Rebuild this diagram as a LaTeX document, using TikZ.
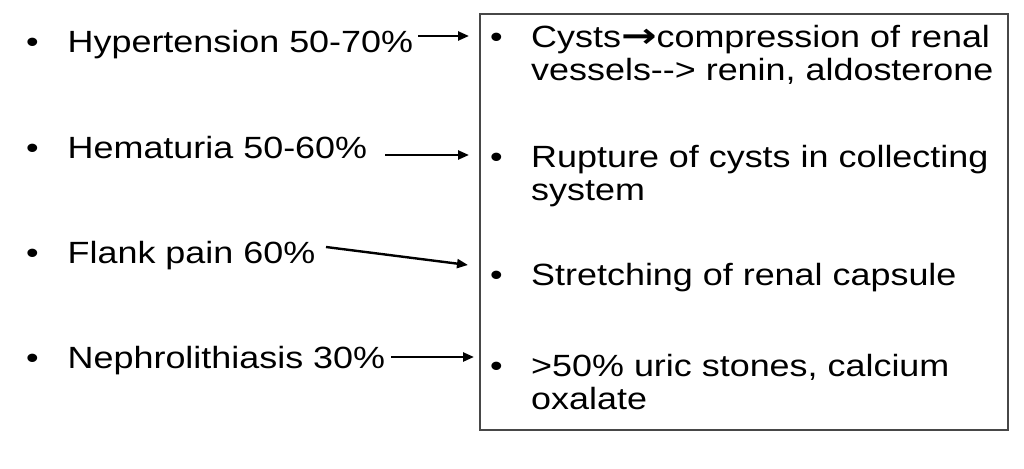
\documentclass[tikz,border=0pt]{standalone}
\usepackage{fontspec}
\setmainfont{Liberation Sans}[FakeStretch=1.17]
\newfontfamily\arrfont{DejaVu Sans}[FakeStretch=1.25]
\usetikzlibrary{arrows.meta}
\tikzset{
  txt/.style={anchor=base west, inner sep=0pt, font=\fontsize{30.7}{33}\selectfont, text=black},
  conn/.style={line width=2.4pt, -{Triangle[length=11pt,width=9pt]}},
  frame/.style={draw=black!72, line width=1.6pt}
}
\begin{document}
\begin{tikzpicture}[x=1pt,y=-1pt]
\useasboundingbox[fill=white] (0,0) rectangle (1024,468);
% box
\node[frame, minimum width=528pt, minimum height=416pt, inner sep=0pt, outer sep=0pt] (box) at (744,222) {};
% left bullets
\node[txt] (b1) at (26,53) {•};
\node[txt] (b2) at (26,158) {•};
\node[txt] (b3) at (26,263) {•};
\node[txt] (b4) at (26,368) {•};
\node[txt] (hyp) at (67.5,53) {Hypertension 50-70\%};
\node[txt] (hem) at (67.5,158) {Hematuria 50-60\%};
\node[txt] (fla) at (67.5,263) {Flank pain 60\%};
\node[txt] (nep) at (67.5,368) {Nephrolithiasis 30\%};
% right bullets
\node[txt] (r1) at (490,48) {•};
\node[txt] (r2) at (490,167) {•};
\node[txt] (r3) at (490,285) {•};
\node[txt] (r4) at (490,376) {•};
\node[txt] (cy1) at (531,48) {Cysts{\arrfont\bfseries\fontsize{34}{33}\selectfont →}compression of renal};
\node[txt] (cy2) at (531,81) {vessels-{}-> renin, aldosterone};
\node[txt] (ru1) at (531,167) {Rupture of cysts in collecting};
\node[txt] (ru2) at (531,200) {system};
\node[txt] (st1) at (531,285) {Stretching of renal capsule};
\node[txt] (ox1) at (531,376) {>50\% uric stones, calcium};
\node[txt] (ox2) at (531,409) {oxalate};
% connector ends
\coordinate (a1s) at (418,36);
\coordinate (a1e) at (469,36);
\coordinate (a2s) at (385,155);
\coordinate (a2e) at (469,155);
\coordinate (a3s) at (326,247);
\coordinate (a3e) at (468,265);
\coordinate (a4s) at (391,357);
\coordinate (a4e) at (474,357);
\draw[conn] (a1s) -- (a1e);
\draw[conn] (a2s) -- (a2e);
\draw[conn] (a3s) -- (a3e);
\draw[conn] (a4s) -- (a4e);
\end{tikzpicture}
\end{document}
